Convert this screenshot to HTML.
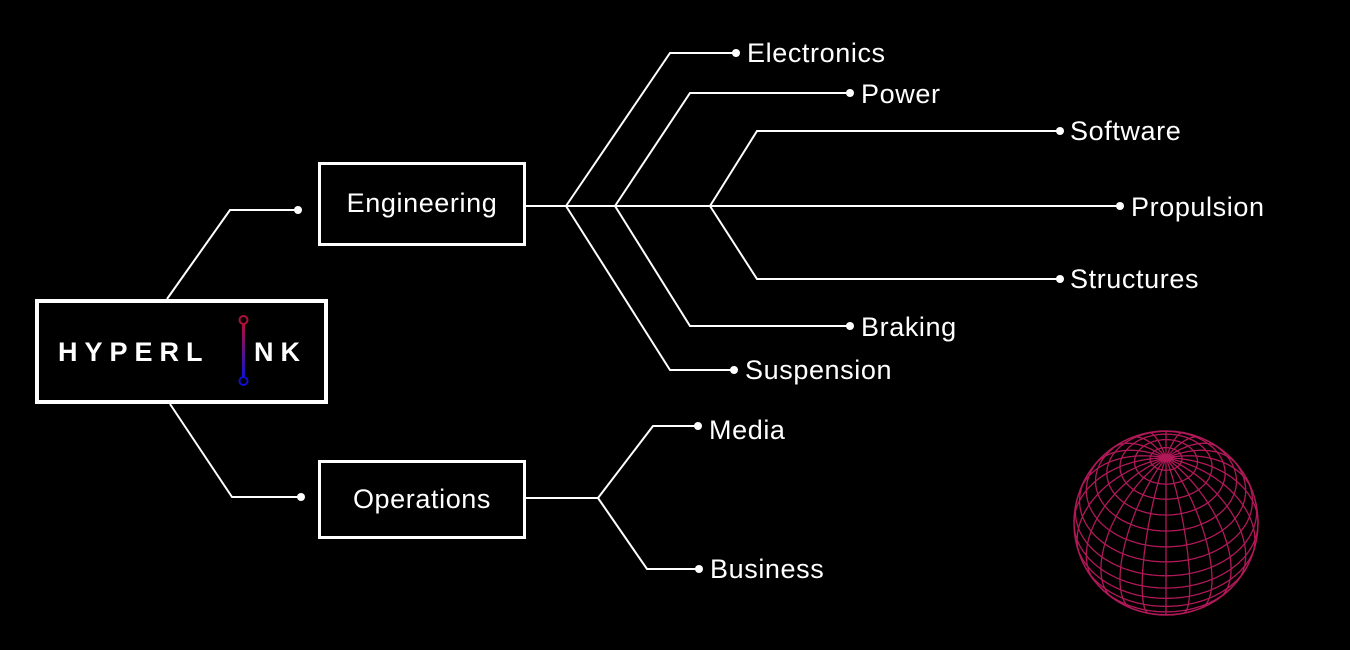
<!DOCTYPE html>
<html><head><meta charset="utf-8"><style>
html,body{margin:0;padding:0;background:#000;}
svg{display:block}
text{font-family:"Liberation Sans",sans-serif;fill:#fff;font-size:27px;letter-spacing:0.6px;}
</style></head><body>
<svg width="1350" height="650" viewBox="0 0 1350 650" xmlns="http://www.w3.org/2000/svg">
<g stroke="#fff" stroke-width="2" fill="none">
<polyline points="167,299 230,210 298,210"/>
<polyline points="170,404 232,497 301,497"/>
<line x1="526" y1="206" x2="1120" y2="206"/>
<polyline points="566,206 670,53 736,53"/>
<polyline points="566,206 670,370 734,370"/>
<polyline points="615,206 690,93 850,93"/>
<polyline points="615,206 690,326 850,326"/>
<polyline points="710,206 757,131 1060,131"/>
<polyline points="710,206 757,279 1060,279"/>
<line x1="526" y1="498" x2="598" y2="498"/>
<polyline points="598,498 653,426 698,426"/>
<polyline points="598,498 647,569 699,569"/>
<rect x="37" y="301" width="289" height="101" stroke-width="4"/>
<rect x="319.5" y="163.5" width="205" height="81" stroke-width="3"/>
<rect x="319.5" y="461.5" width="205" height="76" stroke-width="3"/>
</g>
<g fill="#fff">
<circle cx="298" cy="210" r="4"/><circle cx="301" cy="497" r="4"/>
<circle cx="1120" cy="206" r="4"/><circle cx="736" cy="53" r="4"/>
<circle cx="734" cy="370" r="4"/><circle cx="850" cy="93" r="4"/>
<circle cx="850" cy="326" r="4"/><circle cx="1060" cy="131" r="4"/>
<circle cx="1060" cy="279" r="4"/><circle cx="698" cy="426" r="4"/>
<circle cx="699" cy="569" r="4"/>
</g>
<text x="422" y="212" text-anchor="middle">Engineering</text>
<text x="422" y="508" text-anchor="middle">Operations</text>
<text x="747" y="62">Electronics</text>
<text x="861" y="103">Power</text>
<text x="1070" y="140">Software</text>
<text x="1131" y="216">Propulsion</text>
<text x="1070" y="288">Structures</text>
<text x="861" y="336">Braking</text>
<text x="745" y="379">Suspension</text>
<text x="709" y="439">Media</text>
<text x="710" y="578">Business</text>
<defs><linearGradient id="lg" x1="0" y1="0" x2="0" y2="1"><stop offset="0" stop-color="#b0103a"/><stop offset="1" stop-color="#1010d0"/></linearGradient></defs>
<text x="58" y="361" style="font-size:27px;font-weight:bold;letter-spacing:7px">HYPERL</text>
<text x="254" y="361" style="font-size:27px;font-weight:bold;letter-spacing:7px">NK</text>
<rect x="242" y="324" width="3" height="54" fill="url(#lg)"/>
<circle cx="243.5" cy="320" r="4" fill="none" stroke="#b0103a" stroke-width="2"/>
<circle cx="243.5" cy="381" r="4" fill="none" stroke="#1010d0" stroke-width="2"/>
<g id="globe" stroke="#b01858" stroke-width="1.3" fill="none"></g>
<circle cx="1166" cy="523" r="92" fill="none" stroke="#b01858" stroke-width="1.5"/>
</svg>
<script>
(function(){
var cx=1166,cy=523,R=92,a=Math.PI/4,g=document.getElementById('globe'),d='';
function P(phi,lam){var x=Math.cos(phi)*Math.sin(lam),y=Math.cos(phi)*Math.cos(lam),z=Math.sin(phi);
var up=z*Math.cos(a)-y*Math.sin(a),dp=z*Math.sin(a)+y*Math.cos(a);return [cx+R*x,cy-R*up,dp];}
function seg(f,n){var pen=false;for(var i=0;i<=n;i++){var p=f(i/n);if(p[2]>=0){d+=(pen?'L':'M')+p[0].toFixed(1)+','+p[1].toFixed(1);pen=true;}else pen=false;}}
for(var la=-80;la<=80;la+=10){var phi=la*Math.PI/180;seg(function(t){return P(phi,t*2*Math.PI)},180);}
for(var lo=0;lo<360;lo+=15){var lam=lo*Math.PI/180;seg(function(t){return P(-Math.PI/2+t*Math.PI,lam)},120);}
var p=document.createElementNS('http://www.w3.org/2000/svg','path');p.setAttribute('d',d);g.appendChild(p);
})();
</script>
</body></html>
